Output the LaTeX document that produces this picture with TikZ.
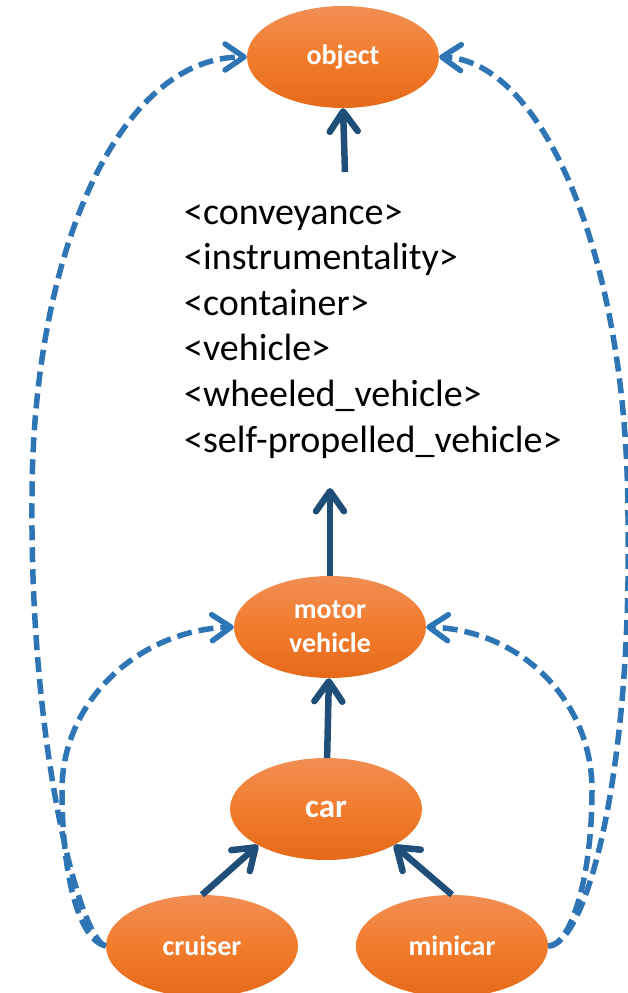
\documentclass[tikz,border=0pt]{standalone}
\usepackage{fontspec}
\setmainfont{Carlito}
\usetikzlibrary{arrows.meta,shapes.geometric}
\definecolor{solidblue}{RGB}{31,78,121}
\definecolor{dashblue}{RGB}{46,117,182}
\definecolor{orTop}{RGB}{240,142,84}
\definecolor{orMid}{RGB}{242,124,44}
\definecolor{orBot}{RGB}{229,106,26}
\begin{document}
\begin{tikzpicture}[x=1pt,y=-1pt,
  concept/.style={ellipse, inner sep=0pt, minimum width=192pt, minimum height=102pt,
    top color=orTop, bottom color=orBot, middle color=orMid,
    text=white, font=\fontsize{28}{34}\selectfont\bfseries, align=center},
  listbox/.style={inner sep=0pt, align=left, font=\fontsize{38}{45.6}\selectfont, text=black},
  isa/.style={draw=solidblue, line width=6.5pt,
    -{Straight Barb[length=20pt,width=28pt,round]}},
  sim/.style={draw=dashblue, line width=5.5pt, dash pattern=on 15pt off 7pt,
    -{Straight Barb[length=19pt,width=26pt,round]}},
]
\useasboundingbox (0,0) rectangle (628,993);
\fill[white] (0,0) rectangle (628,993);

\node[concept] (object) at (343,57) {object};
\node[concept] (motor) at (330,627) {motor\\vehicle};
\node[concept, font=\fontsize{33}{40}\selectfont\bfseries] (car) at (326,809) {car};
\node[concept] (cruiser) at (202,946) {cruiser};
\node[concept] (minicar) at (452,946) {minicar};

\node[listbox, anchor=north west] (list) at (184,204)
  {<conveyance>\\<instrumentality>\\<container>\\<vehicle>\\<wheeled\_vehicle>\\<self-propelled\_vehicle>};

\coordinate (listtop) at (345,172);
\coordinate (listbot) at (330,488);

\draw[isa] (listtop) -- (object.south);
\draw[isa] (motor.north) -- (listbot);
\draw[isa] (car) -- (motor);
\draw[isa] (cruiser.north) -- (car.south west);
\draw[isa] (minicar.north) -- (car.south east);

\draw[sim] (cruiser.west) .. controls (80,940) and (30,750) .. (32,500)
  .. controls (32,250) and (120,57) .. (object.west);
\draw[sim] (cruiser.west) .. controls (80,940) and (62,880) .. (62,790)
  .. controls (62,700) and (140,630) .. (motor.west);
\draw[sim] (minicar.east) .. controls (585,946) and (632,780) .. (628,520)
  .. controls (628,250) and (540,60) .. (object.east);
\draw[sim] (minicar.east) .. controls (570,946) and (592,880) .. (592,790)
  .. controls (592,700) and (520,630) .. (motor.east);
\end{tikzpicture}
\end{document}
